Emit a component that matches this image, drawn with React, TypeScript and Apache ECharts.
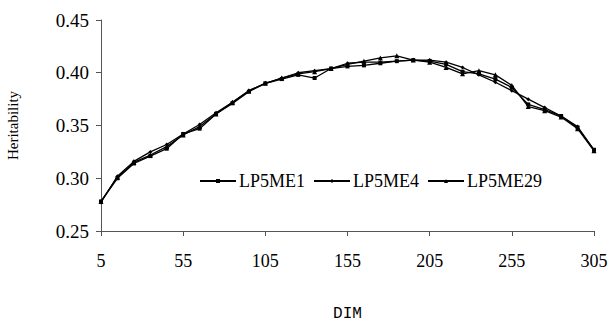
import React, { useEffect, useRef } from "react";
import * as echarts from "echarts";

const dim = [5, 15, 25, 35, 45, 55, 65, 75, 85, 95, 105, 115, 125, 135, 145, 155, 165, 175, 185, 195, 205, 215, 225, 235, 245, 255, 265, 275, 285, 295, 305];

const lp5me1 = [0.278, 0.300, 0.314, 0.321, 0.328, 0.342, 0.347, 0.361, 0.371, 0.382, 0.390, 0.394, 0.398, 0.395, 0.404, 0.406, 0.407, 0.409, 0.411, 0.412, 0.411, 0.408, 0.401, 0.399, 0.394, 0.386, 0.370, 0.365, 0.359, 0.348, 0.327];
const lp5me4 = [0.277, 0.302, 0.316, 0.325, 0.332, 0.342, 0.351, 0.362, 0.372, 0.383, 0.390, 0.395, 0.400, 0.402, 0.404, 0.409, 0.410, 0.410, 0.411, 0.412, 0.412, 0.410, 0.405, 0.398, 0.391, 0.383, 0.375, 0.367, 0.359, 0.349, 0.327];
const lp5me29 = [0.278, 0.301, 0.315, 0.322, 0.330, 0.341, 0.349, 0.361, 0.372, 0.383, 0.390, 0.395, 0.399, 0.401, 0.404, 0.408, 0.411, 0.414, 0.416, 0.412, 0.410, 0.405, 0.399, 0.402, 0.398, 0.388, 0.368, 0.364, 0.358, 0.347, 0.326];

const seriesNames = ["LP5ME1", "LP5ME4", "LP5ME29"];
const yMin = 0.25;
const yMax = 0.45;
const yStep = 0.05;

export default function App() {
  const ref = useRef<HTMLDivElement>(null);
  useEffect(() => {
    if (!ref.current) return;
    const chart = echarts.init(ref.current, null, { renderer: "svg" });
    const serif = "'Liberation Serif', 'Times New Roman', serif";
    const mk = (name: string, data: number[], symbol: string, size: number) => ({
      name,
      type: "line",
      data,
      symbol,
      symbolSize: size,
      showSymbol: true,
      lineStyle: { color: "#000", width: 1.3 },
      itemStyle: { color: "#000" },
      emphasis: { disabled: true },
    });
    chart.setOption({
      animation: false,
      backgroundColor: "#fff",
      grid: { left: 101, right: 15, top: 20, bottom: 92, containLabel: false, outerBoundsMode: "none" },
      legend: {
        left: 194,
        top: 167,
        itemWidth: 36,
        itemHeight: 5,
        itemGap: 8,
        data: seriesNames,
        textStyle: { fontFamily: serif, fontSize: 18, color: "#000", padding: [0, 0, 0, -2] },
      },
      xAxis: {
        type: "category",
        data: dim,
        boundaryGap: false,
        name: "DIM",
        nameLocation: "middle",
        nameGap: 75,
        nameTextStyle: { fontFamily: "'Liberation Mono', 'Courier New', monospace", fontSize: 16, color: "#000" },
        axisLine: { lineStyle: { color: "#555", width: 1 } },
        axisTick: { show: true, length: 5, interval: 4, alignWithLabel: true, lineStyle: { color: "#555" } },
        axisLabel: { interval: 4, margin: 21, fontFamily: serif, fontSize: 18, color: "#000" },
        splitLine: { show: false },
      },
      yAxis: {
        type: "value",
        min: yMin,
        max: yMax,
        interval: yStep,
        name: "Heritability",
        nameLocation: "middle",
        nameGap: 81,
        nameTextStyle: { fontFamily: serif, fontSize: 15, color: "#000" },
        axisLine: { show: true, lineStyle: { color: "#555", width: 1 } },
        axisTick: { show: true, length: 5, lineStyle: { color: "#555" } },
        axisLabel: { margin: 12, fontFamily: serif, fontSize: 19, color: "#000", formatter: (v: number) => v.toFixed(2) },
        splitLine: { show: false },
      },
      series: [
        mk(seriesNames[0], lp5me1, "rect", 4),
        mk(seriesNames[1], lp5me4, "diamond", 4),
        mk(seriesNames[2], lp5me29, "triangle", 5),
      ],
    });
    return () => chart.dispose();
  }, []);
  return <div ref={ref} style={{ width: 609, height: 323, position: "absolute", left: 0, top: 0 }} />;
}
